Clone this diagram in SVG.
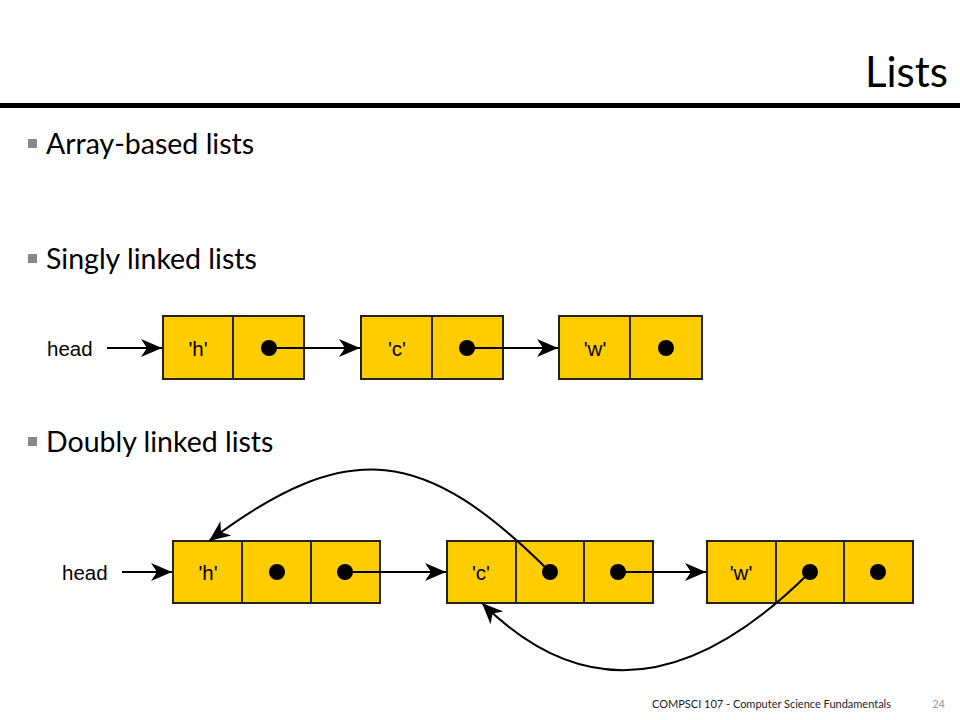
<svg xmlns="http://www.w3.org/2000/svg" width="960" height="720" viewBox="0 0 960 720">
<style>
.title{font-family:Lato,"Open Sans",sans-serif;font-size:42px;fill:#000}
.bul{font-family:Lato,"Open Sans",sans-serif;font-size:28.5px;fill:#000}
.lbl{font-family:"Liberation Sans",Arial,sans-serif;font-size:20.5px;fill:#000}
.cell{fill:#FFCC00;stroke:#222;stroke-width:2}
.dot{fill:#000}
.ln{fill:none;stroke:#000;stroke-width:2}
.foot{font-family:Lato,"Open Sans",sans-serif;font-size:11px}
</style>
<defs>
<marker id="ah" markerUnits="userSpaceOnUse" markerWidth="24" markerHeight="20" refX="21" refY="10" orient="auto" viewBox="0 0 24 20">
<path d="M0,1 L21,10 L0,19 L6,10 z" fill="#000"/>
</marker>
</defs>
<rect width="960" height="720" fill="#fff"/>
<text class="title" x="948" y="87" text-anchor="end">Lists</text>
<rect x="0" y="103" width="960" height="5" fill="#000"/>

<rect x="28" y="139" width="9" height="9" fill="#888"/>
<text class="bul" x="46" y="154">Array-based lists</text>
<rect x="28" y="254" width="9" height="9" fill="#888"/>
<text class="bul" x="46" y="269">Singly linked lists</text>
<rect x="28" y="437" width="9" height="9" fill="#888"/>
<text class="bul" x="46" y="452">Doubly linked lists</text>

<text class="lbl" x="47" y="356">head</text>
<g id="s1">
<rect class="cell" x="163" y="316" width="70" height="63"/>
<rect class="cell" x="233" y="316" width="71" height="63"/>
<text class="lbl" x="198" y="356" text-anchor="middle">'h'</text>
<circle class="dot" cx="269" cy="348" r="8"/>
</g>
<g id="s2">
<rect class="cell" x="361" y="316" width="71" height="63"/>
<rect class="cell" x="432" y="316" width="71" height="63"/>
<text class="lbl" x="397" y="356" text-anchor="middle">'c'</text>
<circle class="dot" cx="467" cy="348" r="8"/>
</g>
<g id="s3">
<rect class="cell" x="559" y="316" width="71" height="63"/>
<rect class="cell" x="630" y="316" width="72" height="63"/>
<text class="lbl" x="595" y="356" text-anchor="middle">'w'</text>
<circle class="dot" cx="666" cy="348" r="8"/>
</g>

<text class="lbl" x="62" y="580">head</text>
<g id="d1">
<rect class="cell" x="173" y="541" width="69" height="62"/>
<rect class="cell" x="242" y="541" width="69" height="62"/>
<rect class="cell" x="311" y="541" width="69" height="62"/>
<text class="lbl" x="208" y="580" text-anchor="middle">'h'</text>
<circle class="dot" cx="277" cy="572" r="8"/>
<circle class="dot" cx="345" cy="572" r="8"/>
</g>
<g id="d2">
<rect class="cell" x="447" y="541" width="69" height="62"/>
<rect class="cell" x="516" y="541" width="68" height="62"/>
<rect class="cell" x="584" y="541" width="69" height="62"/>
<text class="lbl" x="481" y="580" text-anchor="middle">'c'</text>
<circle class="dot" cx="550" cy="572" r="8"/>
<circle class="dot" cx="618" cy="572" r="8"/>
</g>
<g id="d3">
<rect class="cell" x="707" y="541" width="69" height="62"/>
<rect class="cell" x="776" y="541" width="68" height="62"/>
<rect class="cell" x="844" y="541" width="69" height="62"/>
<text class="lbl" x="741" y="580" text-anchor="middle">'w'</text>
<circle class="dot" cx="810" cy="572" r="8"/>
<circle class="dot" cx="878" cy="572" r="8"/>
</g>

<g id="connectors">
<line class="ln" x1="107" y1="348" x2="162" y2="348" marker-end="url(#ah)"/>
<line class="ln" x1="269" y1="348" x2="360" y2="348" marker-end="url(#ah)"/>
<line class="ln" x1="467" y1="348" x2="558" y2="348" marker-end="url(#ah)"/>
<line class="ln" x1="122" y1="572" x2="172" y2="572" marker-end="url(#ah)"/>
<line class="ln" x1="345" y1="572" x2="446" y2="572" marker-end="url(#ah)"/>
<line class="ln" x1="618" y1="572" x2="706" y2="572" marker-end="url(#ah)"/>
<path class="ln" d="M550,572 C425,447 349,436 209,541" marker-end="url(#ah)"/>
<path class="ln" d="M810,572 C680,702 572,693 482,603" marker-end="url(#ah)"/>
</g>

<text class="foot" x="652" y="708" fill="#222">COMPSCI 107 - Computer Science Fundamentals</text>
<text class="foot" x="945" y="708" fill="#999" text-anchor="end">24</text>
</svg>
